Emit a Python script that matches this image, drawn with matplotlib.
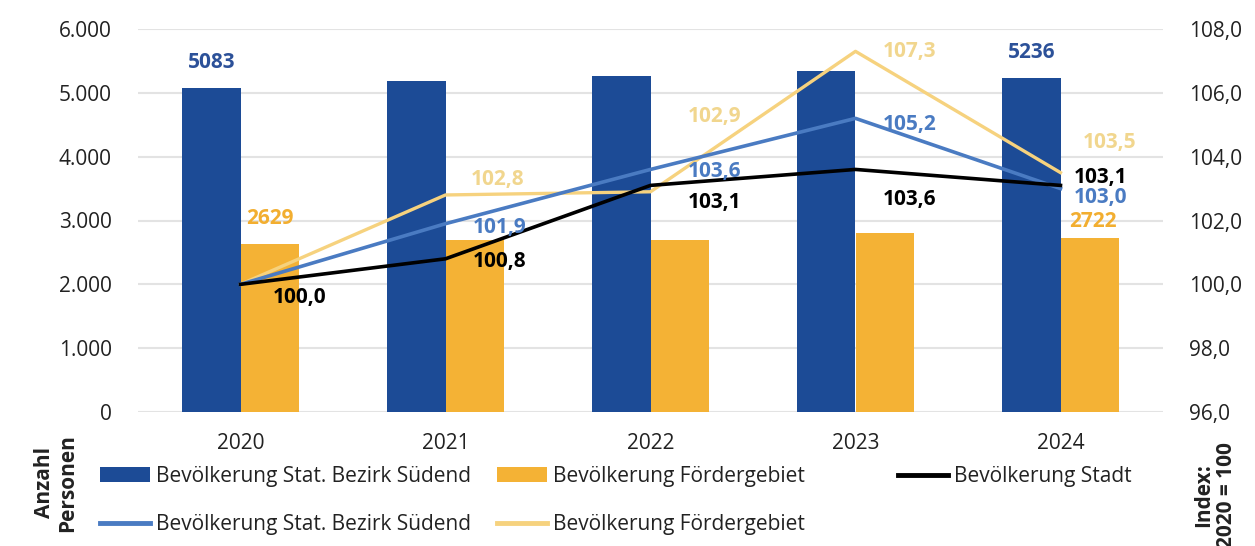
import matplotlib
matplotlib.use("Agg")
import matplotlib.pyplot as plt
from matplotlib.patches import Patch
from matplotlib.lines import Line2D
from matplotlib.ticker import FuncFormatter
import numpy as np

plt.rcParams['font.family'] = ['Open Sans', 'DejaVu Sans']

years = ["2020", "2021", "2022", "2023", "2024"]
bezirk_abs = [5083, 5188, 5266, 5345, 5236]
foerder_abs = [2629, 2696, 2696, 2806, 2722]
stadt_idx = [100.0, 100.8, 103.1, 103.6, 103.1]
bezirk_idx = [100.0, 101.9, 103.6, 105.2, 103.0]
foerder_idx = [100.0, 102.8, 102.9, 107.3, 103.5]

c_bar_blue = "#1C4B96"
c_bar_orange = "#F4B235"
c_line_blue = "#4A7BC2"
c_line_yellow = "#F6D27E"
c_lab_yellow = "#F1D68E"

W, H = 1255, 546
fig = plt.figure(figsize=(W / 100, H / 100), dpi=100)
ax = fig.add_axes([138 / W, 1 - 412 / H, (1163 - 138) / W, (412 - 29) / H])
ax2 = ax.twinx()

x = np.arange(len(years))
bw = 0.283
ax.bar(x - bw / 2, bezirk_abs, bw, color=c_bar_blue, zorder=2)
ax.bar(x + bw / 2, foerder_abs, bw, color=c_bar_orange, zorder=2)
ax.set_ylim(0, 6000)
ax.set_xlim(-0.5, len(years) - 0.5)
ax.set_yticks(np.arange(0, 6001, 1000))
ax.yaxis.set_major_formatter(FuncFormatter(lambda v, p: f"{int(v):,}".replace(",", ".")))
ax.set_xticks(x)
ax.set_xticklabels(years)
ax.grid(axis='y', color='#e3e3e3', linewidth=1.5, zorder=0)
ax.set_axisbelow(True)
for s in ax.spines.values():
    s.set_visible(False)
for s in ax2.spines.values():
    s.set_visible(False)
ax.tick_params(axis='y', length=0, pad=19, labelsize=15, labelcolor='#222222')
ax.tick_params(axis='x', length=0, pad=15, labelsize=15, labelcolor='#222222')

ax2.plot(x, foerder_idx, color=c_line_yellow, lw=2.4, zorder=3)
ax2.plot(x, bezirk_idx, color=c_line_blue, lw=2.6, zorder=4)
ax2.plot(x, stadt_idx, color='black', lw=2.6, zorder=5)
ax2.set_ylim(96, 108)
ax2.set_yticks(np.arange(96, 108.1, 2))
ax2.yaxis.set_major_formatter(FuncFormatter(lambda v, p: f"{v:.1f}".replace(".", ",")))
ax2.tick_params(axis='y', length=0, pad=19, labelsize=15, labelcolor='#222222')

def fmt(v):
    return f"{v:.1f}".replace(".", ",")

# bar labels (first and last year)
for i in [0, len(years) - 1]:
    ax.annotate(str(bezirk_abs[i]), (x[i] - bw / 2, bezirk_abs[i]), xytext=(0, 25),
                textcoords='offset pixels', ha='center', va='center', fontsize=15,
                fontweight='bold', color='#2C5199', zorder=6)
ax.annotate(str(foerder_abs[0]), (x[0] + bw / 2, foerder_abs[0]), xytext=(0, 26),
            textcoords='offset pixels', ha='center', va='center', fontsize=15,
            fontweight='bold', color='#F2AE30', zorder=6)
ax.annotate(str(foerder_abs[-1]), (x[-1] + bw / 2, foerder_abs[-1]), xytext=(3, 17),
            textcoords='offset pixels', ha='center', va='center', fontsize=15,
            fontweight='bold', color='#F2AE30', zorder=6)

stadt_off = [(59, -13), (54, -3), (64, -17), (54, -30), (40, 8)]
bezirk_off = [None, (54, -4), (64, -2), (54, -6), (40, -9)]
foerder_off = [None, (52, 15), (64, 75), (54, 0), (49, 30)]

for i, v in enumerate(foerder_idx):
    if foerder_off[i] is None:
        continue
    ax2.annotate(fmt(v), (x[i], v), xytext=foerder_off[i], textcoords='offset pixels',
                 ha='center', va='center', fontsize=15, fontweight='bold',
                 color=c_lab_yellow, zorder=7)
for i, v in enumerate(bezirk_idx):
    if bezirk_off[i] is None:
        continue
    ax2.annotate(fmt(v), (x[i], v), xytext=bezirk_off[i], textcoords='offset pixels',
                 ha='center', va='center', fontsize=15, fontweight='bold',
                 color=c_line_blue, zorder=7)
for i, v in enumerate(stadt_idx):
    ax2.annotate(fmt(v), (x[i], v), xytext=stadt_off[i], textcoords='offset pixels',
                 ha='center', va='center', fontsize=15, fontweight='bold',
                 color='black', zorder=8)

# axis titles
fig.text(56 / W, 1 - 483 / H, "Anzahl\nPersonen", rotation=90, ha='center', va='center',
         fontsize=15, fontweight='bold', color='#222222', linespacing=1.15)
fig.text(1215 / W, 1 - 495 / H, "Index:\n2020 = 100", rotation=90, ha='center', va='center',
         fontsize=15, fontweight='bold', color='#222222', linespacing=1.15)

# legend (three columns)
lkw = dict(frameon=False, fontsize=15, handlelength=2.4, handletextpad=0.3,
           labelspacing=1.3, borderpad=0, borderaxespad=0, loc='upper left')
h1 = [Patch(facecolor=c_bar_blue), Line2D([], [], color=c_line_blue, lw=3.5)]
l1 = ["Bevölkerung Stat. Bezirk Südend", "Bevölkerung Stat. Bezirk Südend"]
h2 = [Patch(facecolor=c_bar_orange), Line2D([], [], color=c_line_yellow, lw=3.5)]
l2 = ["Bevölkerung Fördergebiet", "Bevölkerung Fördergebiet"]
h3 = [Line2D([], [], color='black', lw=3.5)]
l3 = ["Bevölkerung Stadt"]
leg1 = fig.legend(h1, l1, bbox_to_anchor=(100 / W, 1 - 466 / H), **lkw)
leg2 = fig.legend(h2, l2, bbox_to_anchor=(497 / W, 1 - 466 / H), **lkw)
leg3 = fig.legend(h3, l3, bbox_to_anchor=(898 / W, 1 - 466 / H), **lkw)
for lg in (leg1, leg2, leg3):
    for t in lg.get_texts():
        t.set_color('#222222')

fig.savefig("out.png", dpi=100)
